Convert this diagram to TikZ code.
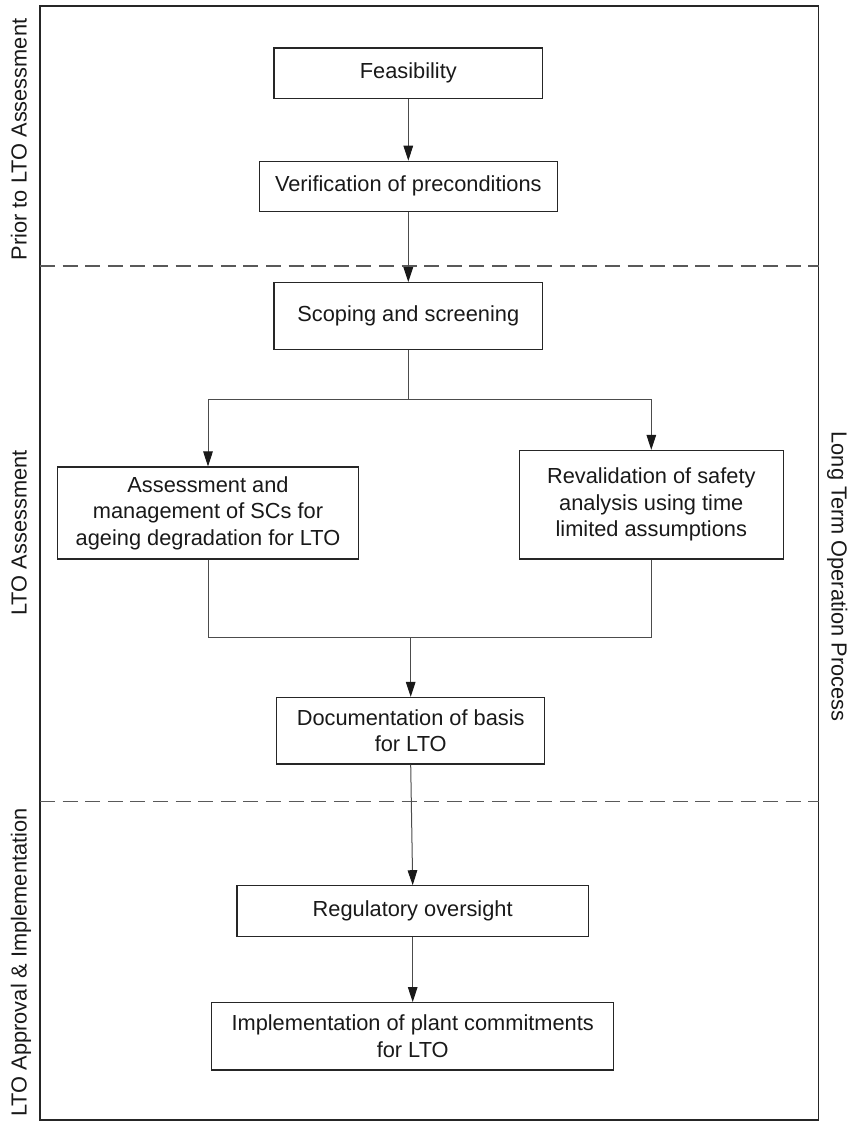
\documentclass[tikz,border=0pt]{standalone}
\usepackage{fontspec}
\setmainfont{Liberation Sans}
\usetikzlibrary{arrows.meta}

\begin{document}
\begin{tikzpicture}[x=0.5pt,y=-0.5pt]
	\tikzstyle{every node}=[font=\fontsize{10.9}{13.3}\selectfont,text=black!90]
	\tikzstyle{box}=[draw=black!85,line width=0.6pt,align=center,inner sep=0pt]
	\tikzstyle{link}=[draw=black!70,line width=0.5pt,-{Triangle[length=7.5pt,width=4.8pt,color=black!90]}]
	\tikzstyle{phase}=[draw=black!65,line width=0.6pt,dash pattern=on 7.5pt off 3.8pt]

	\useasboundingbox (0,0) rectangle (853,1125);
	\draw[black!85,line width=0.6pt] (40,6) rectangle (818.7,1120);
	\draw[phase] (40,266) -- (818.7,266);
	\draw[phase] (40,801.7) -- (818.7,801.7);

	% phase labels on the sides
	\node[rotate=90,anchor=base](prior) at (26.5,139.5){Prior to LTO Assessment};
	\node[rotate=90,anchor=base](ltoa) at (26.5,533){LTO Assessment};
	\node[rotate=90,anchor=base](appr) at (26.5,962.5){LTO Approval \& Implementation};
	\node[rotate=-90,anchor=base](ltop) at (831.5,576.5){Long Term Operation Process};

	\node[box,minimum width=134.3pt,minimum height=25.3pt](feas) at (408.3,73.3){Feasibility};
	\node[box,minimum width=149pt,minimum height=25pt](verif) at (408.3,186.3){Verification of preconditions};
	\node[box,minimum width=134.3pt,minimum height=33.3pt](scope) at (408.3,316){Scoping and screening};
	\node[box,minimum width=150.8pt,minimum height=46pt](assess) at (208,513){Assessment and\\management of SCs for\\ageing degradation for LTO};
	\node[box,minimum width=132pt,minimum height=54.3pt](reval) at (651.3,504.7){Revalidation of safety\\analysis using time\\limited assumptions};
	\node[box,minimum width=134pt,minimum height=33.3pt](doc) at (410.7,730.7){Documentation of basis\\for LTO};
	\node[box,minimum width=175.7pt,minimum height=25.2pt](reg) at (412.7,911){Regulatory oversight};
	\node[box,minimum width=201pt,minimum height=33.7pt](impl) at (412.7,1036.3){Implementation of plant commitments\\for LTO};

	\draw[link](feas)--(verif);
	\draw[link](verif)--(scope);
	\coordinate(split) at (408.3,399);
	\draw[link](scope.south)--(split)-|(assess.north);
	\draw[link](split)-|(reval.north);
	\coordinate(join) at (410.7,637.7);
	\draw[draw=black!70,line width=0.5pt](assess.south)|-(join)-|(reval.south);
	\draw[link](join)--(doc.north);
	\draw[link](doc.south)--(reg.north);
	\draw[link](reg)--(impl);
\end{tikzpicture}
\end{document}
